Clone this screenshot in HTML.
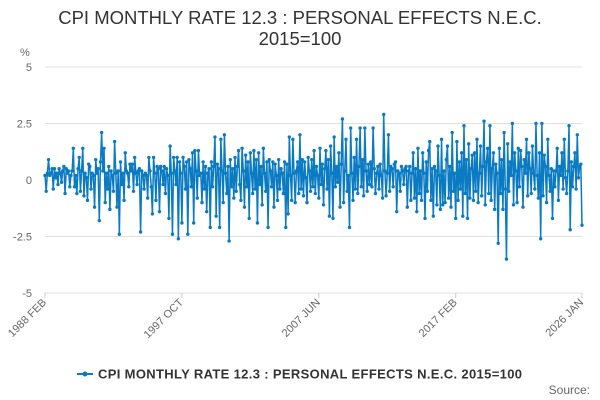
<!DOCTYPE html>
<html><head><meta charset="utf-8"><style>
body{margin:0;background:#fff;font-family:"Liberation Sans",sans-serif;}
#wrap{position:relative;width:600px;height:400px;overflow:hidden;}
</style></head><body>
<div id="wrap">
<svg id="chart" width="600" height="400"></svg>
</div>
<script>
const yTicks=[5,2.5,0,-2.5,-5];
const yTickLabels=["5","2.5","0","-2.5","-5"];
const xTickIdx=[0,116,232,348,455];
const xTickLabels=["1988 FEB","1997 OCT","2007 JUN","2017 FEB","2026 JAN"];
const values=[
0.2,-0.5,0.3,0.9,0.2,0.3,0.5,-0.4,0.5,0.1,0.3,-0.2,
0.5,0.3,-0.1,0.4,0.6,-0.6,0.5,0.3,0.4,-0.3,0.2,0.4,
1.4,-0.3,0.2,-0.6,0.5,1.0,-0.5,0.4,1.4,-0.7,0.3,0.1,
-0.9,0.7,0.6,-0.4,0.3,0.2,-1.2,0.9,0.3,0.5,-1.8,0.8,
2.1,0.4,1.4,-1.0,0.3,-0.4,0.6,-1.3,0.4,0.2,-0.5,1.7,
0.3,-1.2,0.4,-2.4,0.8,-0.2,0.3,-0.9,1.2,0.4,0.3,-0.3,
0.7,0.4,0.7,-0.5,1.0,0.3,-0.2,0.4,0.5,-2.3,0.4,0.2,
-0.4,0.3,0.2,-0.8,1.0,0.4,-0.3,-1.5,1.0,0.3,-0.9,0.6,
0.5,-1.4,0.6,0.4,-0.2,0.6,-0.6,0.5,0.2,-1.7,1.5,0.3,
-2.4,1.0,0.4,-0.2,1.0,-2.6,0.8,0.3,-1.9,1.0,0.6,-0.4,
0.8,-2.4,0.9,0.5,-0.3,1.2,-1.9,1.3,0.4,-0.8,1.3,0.2,
0.3,-1.0,0.8,-0.4,0.6,-1.4,0.3,0.5,-2.1,0.8,-0.3,0.6,
1.9,-1.6,0.7,0.5,-2.1,1.8,0.4,-1.0,2.0,0.3,-0.6,0.6,
-2.7,0.9,-0.3,0.5,-0.8,1.0,-0.5,0.6,1.3,-0.2,-0.9,1.4,
0.4,-1.2,1.1,-0.3,0.8,-1.7,1.2,0.3,-0.6,1.3,-0.4,0.9,
-1.9,1.2,-0.2,0.6,-1.1,1.4,0.3,-0.5,0.8,-2.1,0.9,0.4,
-0.3,0.8,-1.2,0.7,0.2,-0.9,0.9,-0.4,0.5,0.3,-0.6,0.8,
-2.1,0.7,-1.5,1.9,0.2,-0.9,1.8,0.3,-1.0,0.4,0.8,-0.6,
2.0,-0.4,0.9,-0.7,0.8,0.1,-1.0,1.0,0.4,-0.5,0.9,-0.3,
1.3,-0.6,0.6,0.2,-0.8,1.4,-0.2,0.7,-1.1,0.5,1.3,-0.4,
0.9,-1.6,1.5,0.3,-1.7,1.9,-0.3,0.6,-0.1,1.2,-1.2,0.7,
2.7,-1.0,0.4,1.8,-0.5,0.2,-2.1,2.3,0.3,-0.9,1.0,-0.4,
1.8,-0.6,0.6,2.3,-0.3,0.9,-0.7,2.3,0.4,-0.5,0.7,-0.2,
0.8,-0.3,2.3,0.5,-0.6,0.3,0.6,-0.4,0.7,0.2,-0.8,2.9,
0.4,-0.7,0.3,2.0,-0.5,0.6,0.5,-0.3,0.7,0.8,-1.4,0.4,
0.3,-0.5,0.6,0.4,-0.2,0.5,0.6,-1.2,0.4,0.6,-0.9,0.3,
1.2,-0.8,0.5,-1.4,1.4,-0.6,0.4,-0.9,1.2,0.3,-1.7,0.8,
-0.5,1.3,1.7,-0.9,0.5,-1.6,0.6,0.4,-1.1,1.5,0.2,-1.3,
1.8,-1.1,0.4,-1.0,0.9,1.5,-0.8,0.6,-1.2,2.1,-0.5,0.3,
-1.7,1.7,-0.9,0.8,-0.4,1.2,-1.6,2.4,-0.6,0.9,-1.7,1.6,
-0.8,0.5,1.1,-0.9,1.2,-0.5,1.8,-1.0,0.3,1.5,-0.7,0.6,
2.6,-1.1,0.8,1.4,-0.6,2.4,-0.9,0.5,1.2,-1.3,0.7,0.3,
-2.8,1.4,-0.6,0.9,-1.3,2.1,-0.4,-3.5,1.6,-0.5,0.8,0.2,
2.5,-1.1,1.2,0.4,-1.0,1.4,-0.3,1.3,0.6,-1.2,0.9,0.3,
1.8,-0.7,1.2,0.5,-0.6,1.5,0.3,-0.4,2.5,0.2,-0.8,1.2,
-2.6,2.5,-0.7,1.1,0.6,-1.0,1.8,0.2,-0.5,0.5,-1.7,0.4,
-0.3,0.4,1.4,-0.9,0.6,0.2,1.2,-0.4,1.8,0.1,-0.6,0.4,
2.4,-2.2,0.8,-0.3,0.6,1.2,-0.4,2.0,0.1,0.6,0.7,-2.0
];
const NS="http://www.w3.org/2000/svg";
const svg=document.getElementById('chart');
const X0=45,X1=582,Y0=67,Y1=293;
function xs(i){return X0+(X1-X0)*i/(values.length-1);}
function ys(v){return Y0+(5-v)/10*(Y1-Y0);}
function mk(t,a,txt){const e=document.createElementNS(NS,t);for(const k in a)e.setAttribute(k,a[k]);if(txt!==undefined)e.textContent=txt;svg.appendChild(e);return e;}
let e;
e=mk('text',{x:300,y:24,'text-anchor':'middle','font-size':18.5,fill:'#333'},'CPI MONTHLY RATE 12.3 : PERSONAL EFFECTS N.E.C.');


e=mk('text',{x:300,y:45,'text-anchor':'middle','font-size':18.5,fill:'#333'},'2015=100');


e=mk('text',{x:20,y:56,'font-size':11,fill:'#666'},'%');


yTicks.forEach((t,i)=>{
 const g=mk('line',{x1:X0,x2:X1,y1:ys(t),y2:ys(t),stroke:'#e0e0e0','stroke-width':1});
 
 
 const l=mk('text',{x:32,y:ys(t)+4,'text-anchor':'end','font-size':11,fill:'#666'},yTickLabels[i]);
 
 
});
xTickIdx.forEach((ix,i)=>{
 const x=xs(ix);
 const tk=mk('line',{x1:x,x2:x,y1:Y1,y2:Y1+5,stroke:'#ccc'});
 
 
 const l=mk('text',{x:x+2,y:Y1+10,'text-anchor':'end','font-size':11,fill:'#666',transform:`rotate(-45 ${x+2} ${Y1+10})`},xTickLabels[i]);
 
 
});
const pts=values.map((v,i)=>xs(i).toFixed(2)+','+ys(v).toFixed(2)).join(' ');
e=mk('polyline',{points:pts,fill:'none',stroke:'#0a7bc2','stroke-width':1.5,'stroke-linejoin':'round'});


values.forEach((v,i)=>{
 const c=mk('circle',{cx:xs(i),cy:ys(v),r:1.7,fill:'#0a7bc2'});
 
 
});
e=mk('line',{x1:77,x2:93,y1:374,y2:374,stroke:'#0a7bc2','stroke-width':2});


e=mk('circle',{cx:85,cy:374,r:2.5,fill:'#0a7bc2'});


e=mk('text',{x:98,y:378.5,'font-size':13,'font-weight':'bold',fill:'#333',textLength:424},'CPI MONTHLY RATE 12.3 : PERSONAL EFFECTS N.E.C. 2015=100');


e=mk('text',{x:590,y:394,'text-anchor':'end','font-size':12,fill:'#666'},'Source:');


</script>
</body></html>
